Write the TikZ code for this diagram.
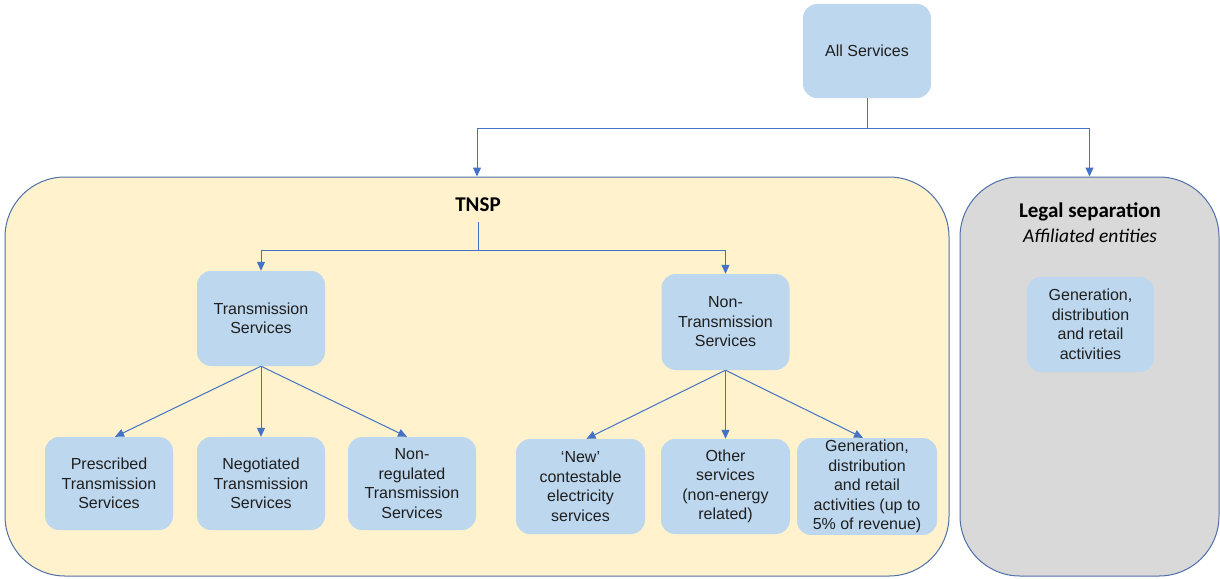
\documentclass[tikz,border=0pt]{standalone}
\usepackage{fontspec}
\setmainfont{Liberation Sans}
\newfontfamily\calibri{Carlito}
\usetikzlibrary{arrows.meta}
\definecolor{boxblue}{HTML}{BDD7EE}
\definecolor{linkblue}{HTML}{4472C4}
\definecolor{tnspfill}{HTML}{FFF2CC}
\definecolor{legalfill}{HTML}{D9D9D9}
\definecolor{framecol}{HTML}{4F6FA8}
\definecolor{txt}{HTML}{1F1F1F}
\begin{document}
\begin{tikzpicture}[x=1pt,y=-1pt,
 svc/.style={rectangle, rounded corners=14pt, fill=boxblue, minimum width=128pt, minimum height=94pt, align=center, font=\fontsize{16}{19.5}\selectfont, text=txt, inner sep=2pt},
 conn/.style={draw=linkblue, line width=1pt, -{Triangle[length=9pt,width=8pt]}},
 plainline/.style={draw=linkblue, line width=1pt},
 container/.style={rectangle, rounded corners=60pt, draw=framecol, line width=1pt},
 title/.style={font=\calibri\bfseries\fontsize{21}{24}\selectfont, text=black, inner sep=10pt}]
\useasboundingbox (0,0) rectangle (1220,578);

\node[container, fill=tnspfill, minimum width=944pt, minimum height=399pt] (tnsp) at (477,376.5) {};
\node[container, fill=legalfill, minimum width=259pt, minimum height=399pt] (legal) at (1089.5,376.5) {};

\node[title] (tnsplabel) at (478,205) {TNSP};
\node[title, inner sep=2pt] (legallabel) at (1090,212) {Legal separation};
\node[font=\calibri\itshape\fontsize{19.5}{22}\selectfont, text=black, inner sep=2pt] (affil) at (1090,236) {Affiliated entities};

\node[svc] (all) at (867,51) {All Services};
\node[svc, minimum height=95pt] (ts) at (261,318.5) {Transmission\\Services};
\node[svc, minimum height=96pt] (nts) at (725.5,322) {Non-\\Transmission\\Services};

\node[svc, minimum height=93pt] (p1) at (109,483.5) {Prescribed\\Transmission\\Services};
\node[svc, minimum height=93pt] (p2) at (261,483.5) {Negotiated\\Transmission\\Services};
\node[svc, minimum height=93pt] (p3) at (412,483.5) {Non-\\regulated\\Transmission\\Services};

\node[svc, minimum width=129pt, minimum height=95pt] (q1) at (580.5,486.5) {‘New’\\contestable\\electricity\\services};
\node[svc, minimum width=129pt, minimum height=95pt] (q2) at (725.5,486.5) {Other\\services\\(non-energy\\related)};
\node[svc, minimum width=140pt, minimum height=95pt, font=\fontsize{16}{19.5}\selectfont] (q3) at (867,486.5) {Generation,\\distribution\\and retail\\activities (up to\\5\% of revenue)};

\node[svc, minimum width=127pt, minimum height=95pt] (gen) at (1090.5,324.5) {Generation,\\distribution\\and retail\\activities};

% top connectors
\coordinate (j1) at (867,128);
\draw[plainline] (all.south) -- (j1);
\draw[conn] (j1) -| (tnsp.north);
\draw[conn] (j1) -| (legal.north);

% TNSP connectors
\coordinate (j2) at (478,250);
\draw[plainline] (tnsplabel.south) -- (j2);
\draw[conn] (j2) -| (ts.north);
\draw[conn] (j2) -| (nts.north);

% transmission children
\draw[conn] (ts.south) -- ([xshift=6pt]p1.north);
\draw[conn] (ts.south) -- (p2.north);
\draw[conn] (ts.south) -- ([xshift=-5pt]p3.north);

% non-transmission children
\draw[conn] (nts.south) -- ([xshift=6pt]q1.north);
\draw[conn] (nts.south) -- (q2.north);
\draw[conn] (nts.south) -- ([xshift=-4pt]q3.north);
\end{tikzpicture}
\end{document}
